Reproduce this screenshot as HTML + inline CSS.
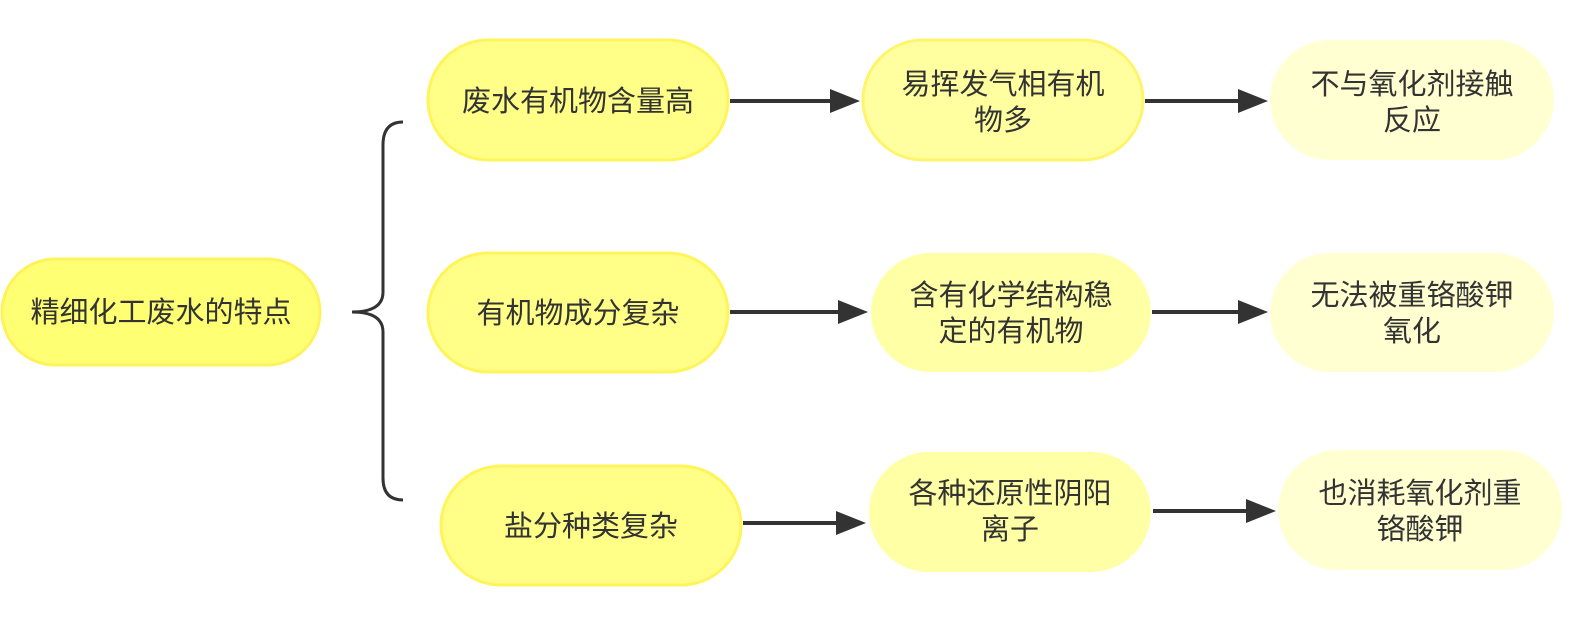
<!DOCTYPE html>
<html><head><meta charset="utf-8"><style>
html,body{margin:0;padding:0;background:#fff;width:1588px;height:643px;overflow:hidden}
svg text{font-family:"Liberation Sans","Noto Sans CJK SC",sans-serif;font-size:29px;fill:#333;text-anchor:middle}
</style></head><body>
<svg width="1588" height="643" viewBox="0 0 1588 643" xmlns="http://www.w3.org/2000/svg">
<g stroke="#333" stroke-width="3" fill="none">
<path d="M403,122 Q383,122 383,145 L383,292 Q383,312 352,312 Q383,312 383,332 L383,478 Q383,500 403,500"/>
</g>
<g stroke="#333" stroke-width="4">
<line x1="730" y1="101" x2="835" y2="101"/><path d="M830,89L860,101L830,113z" fill="#333" stroke="none"/>
<line x1="1145" y1="101" x2="1243" y2="101"/><path d="M1238,89L1268,101L1238,113z" fill="#333" stroke="none"/>
<line x1="730" y1="312" x2="843" y2="312"/><path d="M838,300L868,312L838,324z" fill="#333" stroke="none"/>
<line x1="1152" y1="312" x2="1243" y2="312"/><path d="M1238,300L1268,312L1238,324z" fill="#333" stroke="none"/>
<line x1="743" y1="523" x2="841" y2="523"/><path d="M836,511L866,523L836,535z" fill="#333" stroke="none"/>
<line x1="1153" y1="511" x2="1251" y2="511"/><path d="M1246,499L1276,511L1246,523z" fill="#333" stroke="none"/>
</g>
<rect x="2" y="259" width="318" height="106" rx="53" fill="#ffff73" stroke="#fff25a" stroke-width="3"/>
<text x="161" y="322">精细化工废水的特点</text>
<rect x="428" y="40" width="300" height="120" rx="60" fill="#ffff88" stroke="#fff45a" stroke-width="3"/>
<text x="578" y="111">废水有机物含量高</text>
<rect x="428" y="253" width="300" height="119" rx="60" fill="#ffff88" stroke="#fff45a" stroke-width="3"/>
<text x="578" y="323">有机物成分复杂</text>
<rect x="441" y="466" width="300" height="119" rx="60" fill="#ffff88" stroke="#fff45a" stroke-width="3"/>
<text x="591" y="536">盐分种类复杂</text>
<rect x="863" y="40" width="280" height="120" rx="60" fill="#ffffa0" stroke="#fff46a" stroke-width="3"/>
<text x="1003" y="94">易挥发气相有机</text><text x="1003" y="130">物多</text>
<rect x="871" y="253" width="280" height="119" rx="60" fill="#ffffa6" stroke="none"/>
<text x="1011" y="305">含有化学结构稳</text><text x="1011" y="341">定的有机物</text>
<rect x="869" y="452" width="282" height="120" rx="60" fill="#ffffa6" stroke="none"/>
<text x="1010" y="503">各种还原性阴阳</text><text x="1010" y="539">离子</text>
<rect x="1270" y="40" width="284" height="120" rx="60" fill="#ffffd2"/>
<text x="1412" y="94">不与氧化剂接触</text><text x="1412" y="130">反应</text>
<rect x="1270" y="253" width="284" height="119" rx="60" fill="#ffffd2"/>
<text x="1412" y="305">无法被重铬酸钾</text><text x="1412" y="341">氧化</text>
<rect x="1278" y="450" width="284" height="120" rx="60" fill="#ffffd2"/>
<text x="1420" y="503">也消耗氧化剂重</text><text x="1420" y="539">铬酸钾</text>
</svg>
</body></html>
